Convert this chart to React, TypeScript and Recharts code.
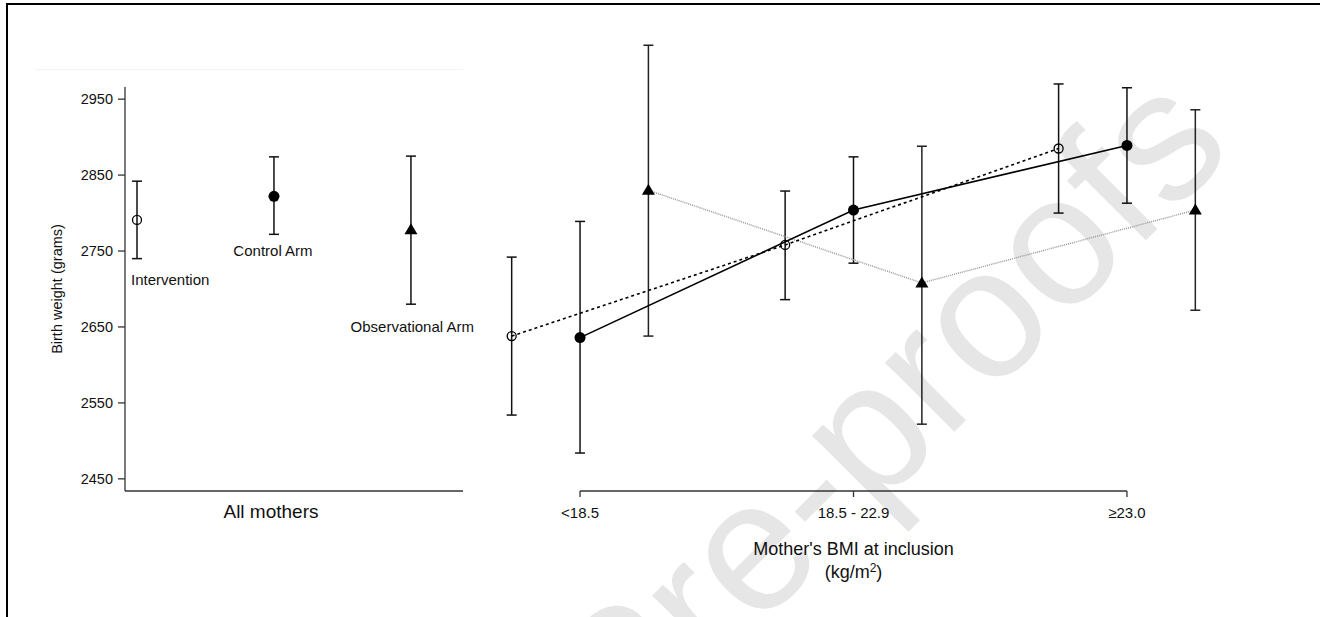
import React from "react";
import { ComposedChart, Scatter, XAxis, YAxis, ErrorBar, ReferenceLine, ReferenceDot } from "recharts";

// left panel: all mothers, one point per arm
const armNames = ["Intervention", "Control Arm", "Observational Arm"];
const armMean = [2791, 2822, 2778];
const armLow = [2740, 2772, 2680];
const armHigh = [2842, 2874, 2875];

// right panel: by BMI group
const bmiLabels = ["<18.5", "18.5 - 22.9", "\u226523.0"];
const interventionMean = [2638, 2758, 2885];
const interventionLow = [2534, 2686, 2800];
const interventionHigh = [2742, 2829, 2970];
const controlMean = [2636, 2804, 2889];
const controlLow = [2484, 2734, 2813];
const controlHigh = [2789, 2874, 2965];
const observationalMean = [2830, 2708, 2804];
const observationalLow = [2638, 2522, 2672];
const observationalHigh = [3021, 2888, 2936];

const yTicks = [2450, 2550, 2650, 2750, 2850, 2950];

const Y_MIN = 2434;
const Y_MAX_LEFT = 2966;
const Y_MAX_RIGHT = 3045;
const CHART_H = 617;
const X_AXIS_H = 126;
const LEFT_TOP = 87;
const PLOT_BOTTOM = CHART_H - X_AXIS_H;
const PX_PER_UNIT = (PLOT_BOTTOM - LEFT_TOP) / (Y_MAX_LEFT - Y_MIN);
const RIGHT_TOP = PLOT_BOTTOM - (Y_MAX_RIGHT - Y_MIN) * PX_PER_UNIT;
const DODGE = 0.25;

const toRows = (mean: number[], low: number[], high: number[], shift: number) =>
  mean.map((y, i) => ({ x: i + shift, y, err: [y - low[i], high[i] - y] }));

const armRows = toRows(armMean, armLow, armHigh, 0);
const interventionRows = toRows(interventionMean, interventionLow, interventionHigh, -DODGE);
const controlRows = toRows(controlMean, controlLow, controlHigh, 0);
const observationalRows = toRows(observationalMean, observationalLow, observationalHigh, DODGE);

const INK = "#111";
const AXIS = "#333";

const OpenCircle = (p: any) => (
  <circle cx={p.cx} cy={p.cy} r={4.5} fill="none" stroke="#000" strokeWidth={1.3} />
);
const FilledCircle = (p: any) => <circle cx={p.cx} cy={p.cy} r={5.5} fill="#000" />;
const Triangle = (p: any) => (
  <path
    d={`M${p.cx},${p.cy - 6.5}L${p.cx + 6.5},${p.cy + 4.5}L${p.cx - 6.5},${p.cy + 4.5}Z`}
    fill="#000"
  />
);
const shapes = [OpenCircle, FilledCircle, Triangle];

// where each arm name sits relative to the bottom of its error bar
const armLabelPlacement = [
  { dx: -6, dy: 26.5, anchor: "start" },
  { dx: -1, dy: 21.5, anchor: "middle" },
  { dx: 63, dy: 27.5, anchor: "end" },
];

function LeftPanel() {
  return (
    <ComposedChart width={480} height={CHART_H} margin={{ top: LEFT_TOP, right: 17, bottom: 0, left: 0 }}>
      <XAxis
        type="number"
        dataKey="x"
        domain={[-0.0876, 2.38]}
        allowDataOverflow
        ticks={[1]}
        tickFormatter={() => "All mothers"}
        tickLine={false}
        tickSize={0}
        tickMargin={14}
        height={X_AXIS_H}
        axisLine={{ stroke: AXIS, strokeWidth: 1.3 }}
        tick={{ fill: INK, fontSize: 19, dx: -3 }}
      />
      <YAxis
        type="number"
        dataKey="y"
        domain={[Y_MIN, Y_MAX_LEFT]}
        allowDataOverflow
        ticks={yTicks}
        width={125}
        tickSize={7}
        tickMargin={5}
        axisLine={{ stroke: AXIS, strokeWidth: 1.3 }}
        tickLine={{ stroke: AXIS, strokeWidth: 1.3 }}
        tick={{ fill: INK, fontSize: 14.5 }}
        label={(p: any) => {
          const vb = p.viewBox;
          const cx = vb.x + 62;
          const cy = vb.y + vb.height / 2;
          return (
            <text x={cx} y={cy} transform={`rotate(-90 ${cx} ${cy})`} textAnchor="middle" fontSize={14.5} fill={INK}>
              Birth weight (grams)
            </text>
          );
        }}
      />
      {armRows.map((row, i) => (
        <Scatter key={armNames[i]} data={[row]} shape={shapes[i]} isAnimationActive={false}>
          <ErrorBar dataKey="err" direction="y" width={5} stroke={INK} strokeWidth={1.5} />
        </Scatter>
      ))}
      {armNames.map((name, i) => (
        <ReferenceDot
          key={name}
          x={i}
          y={armLow[i]}
          r={0}
          fill="none"
          stroke="none"
          label={(p: any) => {
            const vb = p.viewBox;
            const pl = armLabelPlacement[i];
            return (
              <text x={vb.x + pl.dx} y={vb.y + pl.dy} textAnchor={pl.anchor as any} fontSize={15} fill={INK}>
                {name}
              </text>
            );
          }}
        />
      ))}
    </ComposedChart>
  );
}

function RightPanel() {
  return (
    <ComposedChart width={760} height={CHART_H} margin={{ top: RIGHT_TOP, right: 31, bottom: 0, left: 18 }}>
      <XAxis
        type="number"
        dataKey="x"
        domain={[-0.3, 2.3]}
        allowDataOverflow
        ticks={[0, 1, 2]}
        tickFormatter={(v: number) => bmiLabels[v]}
        axisLine={false}
        tickSize={6}
        tickMargin={10}
        height={X_AXIS_H}
        tickLine={{ stroke: AXIS, strokeWidth: 1.3 }}
        tick={{ fill: INK, fontSize: 15 }}
        label={(p: any) => {
          const vb = p.viewBox;
          const cx = vb.x + vb.width / 2;
          return (
            <g fill={INK} fontSize={18}>
              <text x={cx} y={vb.y + 64} textAnchor="middle">
                Mother's BMI at inclusion
              </text>
              <text x={cx} y={vb.y + 87} textAnchor="middle">
                (kg/m
                <tspan fontSize={12} dy={-6}>
                  2
                </tspan>
                <tspan dy={6}>)</tspan>
              </text>
            </g>
          );
        }}
      />
      <YAxis hide type="number" dataKey="y" domain={[Y_MIN, Y_MAX_RIGHT]} allowDataOverflow />
      <ReferenceLine
        segment={[
          { x: 0, y: Y_MIN },
          { x: 2, y: Y_MIN },
        ]}
        stroke={AXIS}
        strokeWidth={1.3}
      />
      <Scatter
        data={observationalRows}
        shape={Triangle}
        line={{ stroke: "#9a9a9a", strokeWidth: 1.5, strokeDasharray: "1 1" }}
        lineType="joint"
        isAnimationActive={false}
      >
        <ErrorBar dataKey="err" direction="y" width={5} stroke="#222" strokeWidth={1.5} />
      </Scatter>
      <Scatter
        data={interventionRows}
        shape={OpenCircle}
        line={{ stroke: "#000", strokeWidth: 1.6, strokeDasharray: "3 3" }}
        lineType="joint"
        isAnimationActive={false}
      >
        <ErrorBar dataKey="err" direction="y" width={5} stroke={INK} strokeWidth={1.5} />
      </Scatter>
      <Scatter
        data={controlRows}
        shape={FilledCircle}
        line={{ stroke: "#000", strokeWidth: 1.6 }}
        lineType="joint"
        isAnimationActive={false}
      >
        <ErrorBar dataKey="err" direction="y" width={5} stroke={INK} strokeWidth={1.5} />
      </Scatter>
    </ComposedChart>
  );
}

export default function App() {
  return (
    <div
      style={{
        position: "absolute",
        left: 0,
        top: 0,
        width: 1320,
        height: 617,
        background: "#fff",
        overflow: "hidden",
        fontFamily: "'Liberation Sans', Arial, sans-serif",
      }}
    >
      <svg width={1320} height={617} style={{ position: "absolute", left: 0, top: 0 }}>
        <text x={1236} y={150} transform="rotate(-45 1236 150)" textAnchor="end" fontSize={185} fill="#e6e6e6">
          Journal Pre-proofs
        </text>
      </svg>
      <div
        style={{
          position: "absolute",
          left: 6,
          top: 3,
          right: 0,
          bottom: 0,
          borderTop: "2px solid #000",
          borderLeft: "2px solid #000",
        }}
      />
      <div style={{ position: "absolute", left: 35, top: 69, width: 428, height: 1, background: "#f3f3f3" }} />
      <div style={{ position: "absolute", left: 0, top: 0 }}>
        <LeftPanel />
      </div>
      <div style={{ position: "absolute", left: 480, top: 0 }}>
        <RightPanel />
      </div>
    </div>
  );
}
